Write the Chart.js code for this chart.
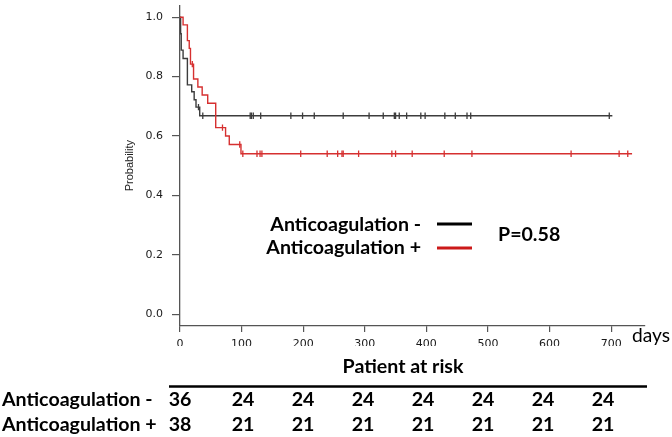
<!DOCTYPE html>
<html lang="en">
<head>
<meta charset="UTF-8">
<title>Kaplan-Meier: Anticoagulation</title>
<script src="https://cdn.jsdelivr.net/npm/chart.js"></script>
<style>
    html, body { margin: 0; padding: 0; background: #fff; }
    .chart-container { width: 672px; height: 437px; }
</style>
</head>
<body>
<div class="chart-container"><canvas id="kmChart" width="672" height="437"></canvas></div>
<script>
// Anticoagulation - : event day and survival right after it
const negTimes = [0, 1, 2, 5, 12, 19, 23, 26, 32, 702];
const negSurv  = [1, 0.944, 0.889, 0.861, 0.772, 0.749, 0.722, 0.697, 0.668, 0.668];
const negCensor = [30, 37, 114, 116, 119, 131, 180, 199, 218, 265, 307, 330, 348, 350, 356, 368, 391, 398, 430, 447, 466, 472, 697];

// Anticoagulation +
const posTimes = [0, 5, 12, 15, 17, 22, 29, 36, 45, 58, 74, 80, 99, 734];
const posSurv  = [1, 0.974, 0.921, 0.895, 0.842, 0.792, 0.765, 0.738, 0.71, 0.628, 0.6, 0.571, 0.54, 0.54];
const posCensor = [20, 69, 97, 102, 125, 130, 133, 196, 239, 256, 263, 265, 290, 344, 350, 377, 429, 474, 635, 713, 727];

// axis ticks and patients at risk
const dayTicks = [0, 100, 200, 300, 400, 500, 600, 700];
const probTicks = [0, 0.2, 0.4, 0.6, 0.8, 1.0];
const riskNeg = [36, 24, 24, 24, 24, 24, 24, 24];
const riskPos = [38, 21, 21, 21, 21, 21, 21, 21];

const groupLabels = ['Anticoagulation -', 'Anticoagulation +'];
const pValue = 'P=0.58';

function survAt(times, surv, t) {
    let s = surv[0];
    for (let i = 0; i < times.length; i++) {
        if (times[i] <= t) s = surv[i];
    }
    return s;
}

const toPoints = (times, surv) => times.map((t, i) => ({ x: t, y: surv[i] }));
const censorPoints = (cens, times, surv) => cens.map(t => ({ x: t, y: survAt(times, surv, t) }));

const BLACK = '#3c3c3c';
const RED = '#d63030';

// legend, p value and risk table
const annotations = {
    id: 'annotations',
    afterDraw(chart) {
        const ctx = chart.ctx;
        const area = chart.chartArea;
        const x0 = area.left;
        ctx.save();
        ctx.fillStyle = '#000';

        ctx.font = 'bold 20px Lato';
        const bold = 20 * 121 / ctx.measureText('Patient at risk').width;
        const boldFont = 'bold ' + bold.toFixed(1) + 'px Lato';

        // legend
        ctx.font = boldFont;
        ctx.textBaseline = 'middle';
        ctx.textAlign = 'right';
        ctx.fillText(groupLabels[0], 421, 225);
        ctx.fillText(groupLabels[1], 421, 248);
        ctx.lineWidth = 3;
        ctx.strokeStyle = '#000';
        ctx.beginPath(); ctx.moveTo(437, 224); ctx.lineTo(472, 224); ctx.stroke();
        ctx.strokeStyle = '#cc1a1a';
        ctx.beginPath(); ctx.moveTo(437, 248); ctx.lineTo(472, 248); ctx.stroke();
        ctx.textAlign = 'left';
        ctx.fillText(pValue, 498, 235);

        // axis unit
        ctx.font = (bold * 0.98).toFixed(1) + 'px Lato';
        ctx.fillText('days', 632, 336);

        // risk table
        ctx.font = boldFont;
        ctx.textAlign = 'center';
        ctx.fillText('Patient at risk', 403, 367);
        ctx.lineWidth = 2.5;
        ctx.strokeStyle = '#000';
        ctx.beginPath(); ctx.moveTo(169, 386.5); ctx.lineTo(647, 386.5); ctx.stroke();

        ctx.textAlign = 'left';
        ctx.fillText(groupLabels[0], 2, 400);
        ctx.fillText(groupLabels[1], 2, 425);
        ctx.textAlign = 'center';
        dayTicks.forEach((d, i) => {
            const cx = x0 + i * 60 + (i > 0 ? 3 : 0);
            ctx.fillText(String(riskNeg[i]), cx, 400);
            ctx.fillText(String(riskPos[i]), cx, 425);
        });
        ctx.restore();
    }
};

new Chart(document.getElementById('kmChart'), {
    type: 'line',
    data: {
        datasets: [
            {
                data: censorPoints(negCensor, negTimes, negSurv),
                showLine: false,
                pointStyle: 'line',
                rotation: 90,
                pointRadius: 3.2,
                pointBorderWidth: 1.3,
                borderColor: BLACK,
                backgroundColor: BLACK
            },
            {
                data: censorPoints(posCensor, posTimes, posSurv),
                showLine: false,
                pointStyle: 'line',
                rotation: 90,
                pointRadius: 3.2,
                pointBorderWidth: 1.3,
                borderColor: RED,
                backgroundColor: RED
            },
            {
                data: toPoints(posTimes, posSurv),
                stepped: true,
                borderColor: RED,
                borderWidth: 1.4,
                pointRadius: 0,
                fill: false
            },
            {
                data: toPoints(negTimes, negSurv),
                stepped: true,
                borderColor: BLACK,
                borderWidth: 1.4,
                pointRadius: 0,
                fill: false
            }
        ]
    },
    options: {
        responsive: false,
        animation: false,
        maintainAspectRatio: false,
        layout: { padding: { left: 123, right: 27, top: 3, bottom: 91 } },
        plugins: {
            legend: { display: false },
            tooltip: { enabled: false }
        },
        scales: {
            x: {
                type: 'linear',
                min: 0,
                max: 755,
                afterBuildTicks: s => { s.ticks = dayTicks.map(v => ({ value: v })); },
                afterFit: s => { s.height = 20; s.paddingLeft = 0; s.paddingRight = 0; },
                grid: { drawOnChartArea: false, tickLength: 6, color: '#555', lineWidth: 1.2 },
                border: { color: '#555', width: 1.3 },
                ticks: {
                    font: { family: 'DejaVu Sans', size: 11 },
                    color: '#1a1a1a',
                    padding: 6,
                    maxRotation: 0,
                    autoSkip: false
                }
            },
            y: {
                min: -0.04,
                max: 1.04,
                afterBuildTicks: s => { s.ticks = probTicks.map(v => ({ value: v })); },
                afterFit: s => { s.width = 57; s.paddingTop = 0; s.paddingBottom = 0; },
                grid: { drawOnChartArea: false, tickLength: 8, color: '#555', lineWidth: 1.2 },
                border: { color: '#555', width: 1.3 },
                ticks: {
                    font: { family: 'DejaVu Sans', size: 11 },
                    color: '#1a1a1a',
                    padding: 9,
                    callback: v => v.toFixed(1)
                },
                title: {
                    display: true,
                    text: 'Probability',
                    font: { family: 'Liberation Sans', size: 11 },
                    color: '#222',
                    padding: 0
                }
            }
        }
    },
    plugins: [annotations]
});
</script>
</body>
</html>
